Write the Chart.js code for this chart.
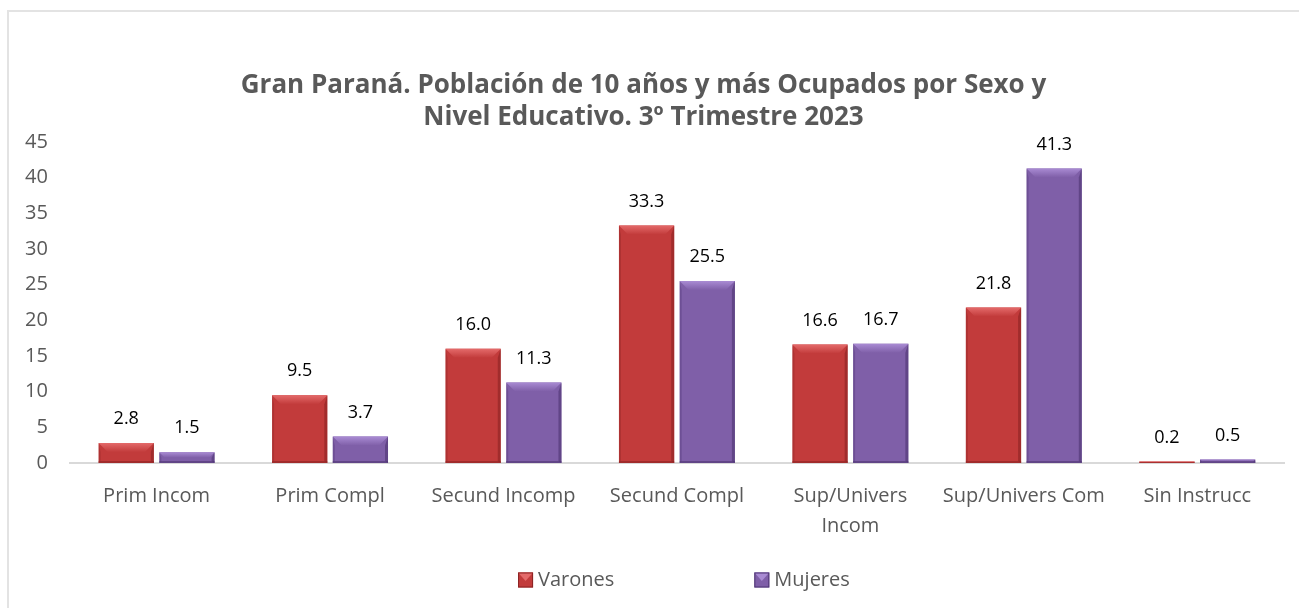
<!DOCTYPE html>
<html>
<head>
<meta charset="utf-8">
<script src="https://cdn.jsdelivr.net/npm/chart.js@4.4.0/dist/chart.umd.min.js"></script>
<style>
  body { margin: 0; background: #fff; }
  #wrap { position: relative; width: 1299px; height: 608px; overflow: hidden; }
  #frame { position: absolute; left: 7px; top: 10px; width: 1400px; height: 700px; border: 2px solid #e3e3e3; box-sizing: border-box; }
  #chart { position: absolute; left: 0; top: 0; }
</style>
</head>
<body>
<div id="wrap">
  <div id="frame"></div>
  <canvas id="chart" width="1299" height="608"></canvas>
</div>
<script>
// datos del grafico
const categorias = ['Prim Incom', 'Prim Compl', 'Secund Incomp', 'Secund Compl', ['Sup/Univers', 'Incom'], 'Sup/Univers Com', 'Sin Instrucc'];
const varones = [2.8, 9.5, 16.0, 33.3, 16.6, 21.8, 0.2];
const mujeres = [1.5, 3.7, 11.3, 25.5, 16.7, 41.3, 0.5];
const tituloLineas = ['Gran Paraná. Población de 10 años y más Ocupados por Sexo y', 'Nivel Educativo. 3º Trimestre 2023'];

const FONT = "'Open Sans', sans-serif";
const GRIS = '#595959';

// colores de cada serie: base, bisel claro, borde oscuro
const estilos = [
    { base: '#c23b3b', claro: '#e46a6a', oscuro: '#8a2323' },
    { base: '#7f5fa8', claro: '#a98bd3', oscuro: '#4d3472' }
];

// Dibuja el efecto de bisel sobre cada barra
const biselPlugin = {
    id: 'bisel',
    afterDatasetsDraw(chart) {
        const ctx = chart.ctx;
        chart.data.datasets.forEach((ds, i) => {
            const est = estilos[i];
            chart.getDatasetMeta(i).data.forEach(bar => {
                const w = bar.width;
                const l = bar.x - w / 2, r = bar.x + w / 2;
                const t = bar.y, b = bar.base;
                const h = b - t;
                if (h <= 0) return;
                const bv = Math.min(9, h / 2);
                ctx.save();
                // bisel superior
                const g = ctx.createLinearGradient(0, t, 0, t + bv);
                g.addColorStop(0, est.claro);
                g.addColorStop(1, est.base);
                ctx.fillStyle = g;
                ctx.beginPath();
                ctx.moveTo(l, t); ctx.lineTo(r, t);
                ctx.lineTo(r - bv, t + bv); ctx.lineTo(l + bv, t + bv);
                ctx.closePath(); ctx.fill();
                // lado derecho
                ctx.fillStyle = est.oscuro;
                ctx.globalAlpha = 0.6;
                ctx.beginPath();
                ctx.moveTo(r, t); ctx.lineTo(r, b);
                ctx.lineTo(r - Math.min(3, bv), b - Math.min(2, bv)); ctx.lineTo(r - Math.min(3, bv), t + bv);
                ctx.closePath(); ctx.fill();
                // lado izquierdo
                ctx.globalAlpha = 0.35;
                ctx.beginPath();
                ctx.moveTo(l, t); ctx.lineTo(l, b);
                ctx.lineTo(l + Math.min(2, bv), b - Math.min(2, bv)); ctx.lineTo(l + Math.min(2, bv), t + bv);
                ctx.closePath(); ctx.fill();
                // base
                ctx.globalAlpha = 0.6;
                ctx.fillRect(l, b - Math.min(2, bv), w, Math.min(2, bv));
                ctx.restore();
            });
        });
    }
};

// Etiquetas de valor encima de cada barra
const etiquetasPlugin = {
    id: 'etiquetas',
    afterDatasetsDraw(chart) {
        const ctx = chart.ctx;
        ctx.save();
        ctx.font = '18px ' + FONT;
        ctx.fillStyle = '#000';
        ctx.textAlign = 'center';
        ctx.textBaseline = 'middle';
        chart.data.datasets.forEach((ds, i) => {
            chart.getDatasetMeta(i).data.forEach((bar, j) => {
                ctx.fillText(ds.data[j].toFixed(1), bar.x, bar.y - 24);
            });
        });
        ctx.restore();
    }
};

// Leyenda inferior con separacion amplia
const leyendaPlugin = {
    id: 'leyenda',
    afterDraw(chart) {
        const ctx = chart.ctx;
        const area = chart.chartArea;
        ctx.save();
        ctx.font = '20px ' + FONT;
        ctx.textBaseline = 'middle';
        const caja = 15, sep = 5, hueco = 140;
        const items = chart.data.datasets.map(ds => ({ texto: ds.label, ancho: ctx.measureText(ds.label).width }));
        const total = items.reduce((s, it) => s + caja + sep + it.ancho, 0) + hueco * (items.length - 1);
        let x = (area.left + area.right) / 2 + 7 - total / 2;
        const y = 580;
        items.forEach((it, i) => {
            const est = estilos[i];
            ctx.fillStyle = est.base;
            ctx.fillRect(x, y - caja / 2, caja, caja);
            ctx.fillStyle = est.claro;
            ctx.beginPath();
            ctx.moveTo(x, y - caja / 2); ctx.lineTo(x + caja, y - caja / 2);
            ctx.lineTo(x + caja / 2, y + 1);
            ctx.closePath(); ctx.fill();
            ctx.strokeStyle = est.oscuro;
            ctx.lineWidth = 1;
            ctx.strokeRect(x + 0.5, y - caja / 2 + 0.5, caja - 1, caja - 1);
            ctx.fillStyle = GRIS;
            ctx.fillText(it.texto, x + caja + sep, y);
            x += caja + sep + it.ancho + hueco;
        });
        ctx.restore();
    }
};

new Chart(document.getElementById('chart'), {
    type: 'bar',
    data: {
        labels: categorias,
        datasets: [
            { label: 'Varones', data: varones, backgroundColor: estilos[0].base },
            { label: 'Mujeres', data: mujeres, backgroundColor: estilos[1].base }
        ]
    },
    options: {
        responsive: false,
        animation: false,
        categoryPercentage: 0.7,
        barPercentage: 0.91,
        layout: { padding: { top: 69, left: 3, right: 15, bottom: 49 } },
        plugins: {
            legend: { display: false },
            tooltip: { enabled: false },
            title: {
                display: true,
                text: tituloLineas,
                color: GRIS,
                font: { family: FONT, size: 26, weight: 'bold', lineHeight: 1.25 },
                padding: { top: 0, bottom: 8 }
            }
        },
        scales: {
            x: {
                grid: { display: false, drawTicks: false },
                border: { color: '#d9d9d9', width: 2 },
                ticks: { color: GRIS, font: { family: FONT, size: 20, lineHeight: 1.5 }, padding: 18, maxRotation: 0, autoSkip: false },
                afterFit(scale) { scale.paddingLeft = 0; scale.paddingRight = 0; }
            },
            y: {
                min: 0,
                max: 45,
                grid: { display: false, drawTicks: false },
                border: { display: false },
                ticks: { stepSize: 5, color: GRIS, font: { family: FONT, size: 20 }, padding: 22 }
            }
        }
    },
    plugins: [biselPlugin, etiquetasPlugin, leyendaPlugin]
});
</script>
</body>
</html>
